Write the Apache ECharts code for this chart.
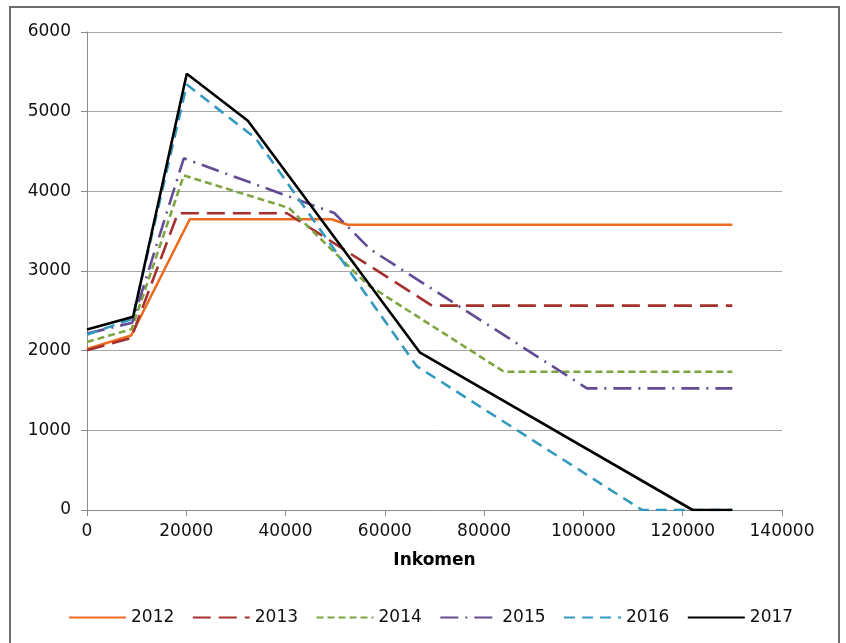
<!DOCTYPE html>
<html>
<head>
<meta charset="utf-8">
<script src="https://cdn.jsdelivr.net/npm/echarts@6/dist/echarts.min.js"></script>
<style>
html,body{margin:0;padding:0;background:#fff;}
#chart{width:846px;height:643px;}
</style>
</head>
<body>
<div id="chart"></div>
<script>
// Tick settings
const xTicks = [0, 20000, 40000, 60000, 80000, 100000, 120000, 140000];
const yTicks = [0, 1000, 2000, 3000, 4000, 5000, 6000];
const seriesNames = ['2012', '2013', '2014', '2015', '2016', '2017'];

// Inkomen (x) breakpoints and values (y) per year
const x2012 = [0, 8900, 20700, 49300, 52500, 130000];
const y2012 = [2020, 2190, 3650, 3650, 3580, 3580];

const x2013 = [0, 8900, 18300, 40300, 69500, 130000];
const y2013 = [2005, 2160, 3725, 3725, 2565, 2565];

const x2014 = [0, 9000, 19500, 40700, 56500, 84000, 130000];
const y2014 = [2110, 2270, 4200, 3790, 2830, 1735, 1735];

const x2015 = [0, 9100, 19500, 49800, 57000, 100700, 130000];
const y2015 = [2215, 2350, 4415, 3728, 3275, 1527, 1527];

const x2016 = [0, 9150, 20100, 34000, 66400, 111800, 130000];
const y2016 = [2200, 2400, 5340, 4665, 1807, 0, 0];

const x2017 = [0, 9300, 20100, 32400, 67100, 122000, 130000];
const y2017 = [2265, 2425, 5475, 4885, 1975, 0, 0];

const xs = [x2012, x2013, x2014, x2015, x2016, x2017];
const ys = [y2012, y2013, y2014, y2015, y2016, y2017];

const colors = ['#EE6B22', '#A5302E', '#7FA543', '#644C94', '#3399BE', '#000000'];
const dashes = ['solid', [18, 8], [7, 4], [18, 7, 2, 7], [11, 7], 'solid'];

const chart = echarts.init(document.getElementById('chart'), null, {renderer: 'canvas'});

const series = seriesNames.map((name, i) => ({
  name: name,
  type: 'line',
  symbol: 'none',
  silent: true,
  data: xs[i].map((x, j) => [x, ys[i][j]]),
  lineStyle: {color: colors[i], width: 2.6, type: dashes[i]},
  itemStyle: {color: colors[i]}
}));

const font = 'DejaVu Sans, Verdana, sans-serif';

chart.setOption({
  animation: false,
  backgroundColor: '#fff',
  textStyle: {fontFamily: font},
  graphic: [{
    type: 'rect',
    shape: {x: 10, y: 7, width: 829, height: 660},
    style: {fill: 'none', stroke: '#6e6e6e', lineWidth: 2},
    silent: true
  }],
  grid: {left: 87, right: 64, top: 32, bottom: 133, containLabel: false},
  xAxis: {
    type: 'value',
    min: xTicks[0],
    max: xTicks[xTicks.length - 1],
    interval: xTicks[1] - xTicks[0],
    name: 'Inkomen',
    nameLocation: 'middle',
    nameGap: 42,
    nameTextStyle: {fontFamily: font, fontSize: 17, fontWeight: 'bold', color: '#000'},
    axisLine: {show: true, lineStyle: {color: '#8a8a8a', width: 1}},
    axisTick: {show: true, inside: false, length: 6, lineStyle: {color: '#8a8a8a'}},
    axisLabel: {fontFamily: font, fontSize: 17, color: '#111', margin: 13, formatter: v => String(v)},
    splitLine: {show: false}
  },
  yAxis: {
    type: 'value',
    min: yTicks[0],
    max: yTicks[yTicks.length - 1],
    interval: yTicks[1] - yTicks[0],
    axisLine: {show: true, lineStyle: {color: '#8a8a8a', width: 1}},
    axisTick: {show: true, inside: false, length: 6, lineStyle: {color: '#8a8a8a'}},
    axisLabel: {fontFamily: font, fontSize: 17, color: '#111', margin: 16, formatter: v => String(v)},
    splitLine: {show: true, lineStyle: {color: '#a6a6a6', width: 1}}
  },
  legend: {
    data: seriesNames,
    left: 63,
    top: 604,
    orient: 'horizontal',
    itemWidth: 57,
    itemHeight: 14,
    itemGap: 17.5,
    itemStyle: {color: 'rgba(0,0,0,0)', borderWidth: 0, borderColor: 'rgba(0,0,0,0)'},
    textStyle: {fontFamily: font, fontSize: 17, color: '#111'}
  },
  series: series
});
</script>
</body>
</html>
